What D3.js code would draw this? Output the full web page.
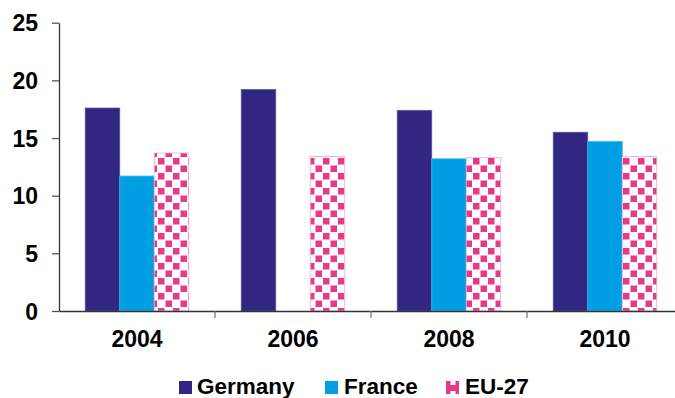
<!DOCTYPE html>
<html><head><meta charset="utf-8">
<script src="https://cdn.jsdelivr.net/npm/d3@7"></script>
<style>
html,body{margin:0;padding:0;background:#fff;overflow:hidden}
text{font-family:"Liberation Sans",Arial,sans-serif;font-weight:bold;fill:#000}
</style></head>
<body><svg id="c" width="675" height="398"></svg>
<script>
const categories = ["2004","2006","2008","2010"];
const seriesNames = ["Germany","France","EU-27"];
const germany = [17.6, 19.2, 17.4, 15.5];
const france = [11.7, null, 13.2, 14.7];
const eu27 = [13.7, 13.4, 13.3, 13.4];
const yTicks = [0,5,10,15,20,25];

const seriesValues = [germany, france, eu27];
const colors = ["#312783", "#009FE3", "url(#checker)"];
const strokes = ["#5b529e", "#3fb4ea", "#f6a9cc"];

const svg = d3.select("#c");
const defs = svg.append("defs");
const pat = defs.append("pattern").attr("id","checker").attr("patternUnits","userSpaceOnUse")
  .attr("width",15).attr("height",15).attr("x",0).attr("y",0);
pat.append("rect").attr("width",15).attr("height",15).attr("fill","#fff");
pat.append("rect").attr("x",0.5).attr("y",0.5).attr("width",6.5).attr("height",6.5).attr("fill","#E8388A");
pat.append("rect").attr("x",8).attr("y",8).attr("width",6.5).attr("height",6.5).attr("fill","#E8388A");
const pat2 = defs.append("pattern").attr("id","checkerSmall").attr("patternUnits","userSpaceOnUse")
  .attr("width",14).attr("height",14).attr("x",446).attr("y",381);
pat2.append("rect").attr("width",14).attr("height",14).attr("fill","#E8388A");
pat2.append("rect").attr("x",4.5).attr("y",0).attr("width",5).attr("height",4).attr("fill","#fff");
pat2.append("rect").attr("x",4.5).attr("y",10).attr("width",5).attr("height",4).attr("fill","#fff");

const x0 = 59, x1 = 683, yTop = 22.7, yBot = 311;
const x = d3.scaleBand().domain(categories).range([x0, x1]).paddingInner(0).paddingOuter(0);
const xs = d3.scaleBand().domain(seriesNames).range([0, x.bandwidth()]).paddingInner(0).paddingOuter(0.76);
const y = d3.scaleLinear().domain([0,25]).range([yBot, yTop]);

// bars
seriesNames.forEach((s, si) => {
  const g = svg.append("g");
  g.selectAll("rect").data(categories.map((c,i)=>({c, v: seriesValues[si][i]})).filter(d=>d.v!=null))
    .enter().append("rect")
    .attr("x", d => x(d.c) + xs(s))
    .attr("width", xs.bandwidth())
    .attr("y", d => y(d.v))
    .attr("height", d => yBot - y(d.v))
    .attr("fill", colors[si])
    .attr("stroke", strokes[si]).attr("stroke-width", 0.8);
});

// y axis
const yAxis = d3.axisLeft(y).tickValues(yTicks).tickSize(7).tickPadding(14).tickSizeOuter(0);
const ga = svg.append("g").attr("transform", `translate(${x0},0)`).call(yAxis);
ga.select(".domain").attr("stroke","#333").attr("stroke-width",1.3);
ga.selectAll(".tick line").attr("stroke","#555").attr("stroke-width",1.3);
ga.selectAll(".tick text").style("font-size","23px").attr("font-family",null).attr("dy","0.36em");

// x axis
const xAxis = d3.axisBottom(x).tickSize(0).tickPadding(0).tickSizeOuter(0);
const gx = svg.append("g").attr("transform", `translate(0,${yBot})`).call(xAxis);
gx.select(".domain").attr("stroke","#333").attr("stroke-width",1.5);
gx.selectAll(".tick text").style("font-size","23px").attr("font-family",null).attr("y",36).attr("dy",0);
// boundary ticks
svg.append("g").selectAll("line").data(categories.slice(1)).enter().append("line")
  .attr("x1", d=>x(d)).attr("x2", d=>x(d)).attr("y1", yBot).attr("y2", yBot+7)
  .attr("stroke","#777").attr("stroke-width",1.3);

// legend
const legendItems = [
  {name:"Germany", sx:179, tx:197, fill:colors[0]},
  {name:"France", sx:325, tx:344, fill:colors[1]},
  {name:"EU-27", sx:446, tx:465, fill:"url(#checkerSmall)"}
];
const lg = svg.append("g");
legendItems.forEach(d => {
  lg.append("rect").attr("x", d.sx).attr("y", 381).attr("width", 13).attr("height", 13).attr("fill", d.fill);
  lg.append("text").attr("x", d.tx).attr("y", 394).style("font-size","22.5px").text(d.name);
});
</script></body></html>
